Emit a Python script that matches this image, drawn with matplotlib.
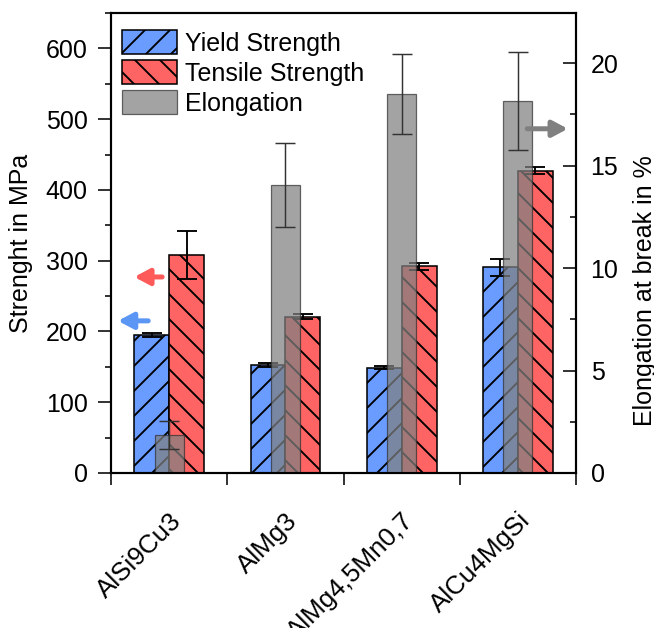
import matplotlib
matplotlib.use("Agg")
import matplotlib.pyplot as plt
from matplotlib.ticker import MultipleLocator, FixedLocator
from matplotlib.transforms import ScaledTranslation
import numpy as np

# data
alloys = ["AlSi9Cu3", "AlMg3", "AlMg4,5Mn0,7", "AlCu4MgSi"]
yield_strength = [195, 153, 149, 291]
yield_err = [3, 3, 2, 12]
tensile_strength = [308, 221, 292, 427]
tensile_err = [34, 4, 5, 5]
elongation = [1.85, 14.05, 18.5, 18.15]
elongation_err = [0.7, 2.05, 1.95, 2.4]

plt.rcParams['font.family'] = ['Liberation Sans', 'DejaVu Sans']
plt.rcParams['hatch.linewidth'] = 0.9

fig = plt.figure(figsize=(654 / 150, 628 / 150), dpi=150)
ax = fig.add_axes([111 / 654, 1 - 473 / 628, 465 / 654, 460 / 628])
ax2 = ax.twinx()

x = np.arange(len(alloys))
ekw = dict(elinewidth=0.9, capthick=0.9, capsize=5, ecolor='black')

ax.bar(x - 0.15, yield_strength, 0.3, yerr=yield_err, color='#6A9CFF',
       edgecolor='black', linewidth=0.75, hatch='//', label='Yield Strength',
       error_kw=ekw)
ax.bar(x + 0.15, tensile_strength, 0.3, yerr=tensile_err, color='#FF6464',
       edgecolor='black', linewidth=0.75, hatch='\\\\', label='Tensile Strength',
       error_kw=ekw)
ax2.bar(x, elongation, 0.25, yerr=elongation_err, color='#808080', alpha=0.72,
        edgecolor='#303030', linewidth=0.6, label='Elongation',
        error_kw=dict(elinewidth=0.7, capthick=0.7, capsize=5, ecolor='#333333'))

# arrows pointing at the axes
arrow = dict(arrowstyle='-|>,head_length=0.6,head_width=0.32', lw=2.4,
             shrinkA=0, shrinkB=0)
ax.annotate('', xy=(-0.44, 215), xytext=(-0.18, 215),
            arrowprops=dict(arrow, color='#5B96F5'))
ax.annotate('', xy=(-0.30, 277), xytext=(-0.06, 277),
            arrowprops=dict(arrow, color='#FF5A5A'))
ax2.annotate('', xy=(3.43, 16.8), xytext=(3.08, 16.8),
             arrowprops=dict(arrow, color='#808080'))

ax.set_xlim(-0.5, 3.5)
ax.set_ylim(0, 650)
ax2.set_ylim(0, 22.45)

ax.yaxis.set_major_locator(MultipleLocator(100))
ax.yaxis.set_minor_locator(MultipleLocator(50))
ax2.yaxis.set_major_locator(MultipleLocator(5))
ax2.yaxis.set_minor_locator(MultipleLocator(2.5))

ax.set_xticks(x)
ax.set_xticklabels(alloys, rotation=45, ha='right', va='top',
                   rotation_mode='anchor', fontsize=12.5)
shift = ScaledTranslation(4 / 150, 0, fig.dpi_scale_trans)
for lbl in ax.get_xticklabels():
    lbl.set_transform(lbl.get_transform() + shift)
ax.xaxis.set_minor_locator(FixedLocator(np.arange(-0.5, 4, 1.0)))
ax.tick_params(axis='x', which='major', length=0, pad=17)
ax.tick_params(axis='x', which='minor', length=5.8, width=0.75, direction='out')
ax.tick_params(axis='y', which='major', length=6.2, width=0.75, direction='out',
               labelsize=12, pad=5)
ax.tick_params(axis='y', which='minor', length=3, width=0.75, direction='out')
ax2.tick_params(axis='y', which='major', length=6.2, width=0.75, direction='in',
                labelsize=12, pad=7)
ax2.tick_params(axis='y', which='minor', length=3, width=0.75, direction='in')

for a in (ax, ax2):
    for s in a.spines.values():
        s.set_linewidth(1.0)

ax.set_ylabel("Strenght in MPa", fontsize=12)
ax.yaxis.set_label_coords(-0.168, 0.5)
ax2.set_ylabel("Elongation at break in %", fontsize=12)
ax2.yaxis.set_label_coords(1.1226, 0.396)

h1, l1 = ax.get_legend_handles_labels()
h2, l2 = ax2.get_legend_handles_labels()
ax2.legend(h1 + h2, l1 + l2, loc='upper left', bbox_to_anchor=(0.024, 0.962),
           frameon=False, fontsize=12, borderpad=0, borderaxespad=0,
           handlelength=2.2, handleheight=1.08, labelspacing=0.18,
           handletextpad=0.32)

fig.savefig("out.png", dpi=150)
